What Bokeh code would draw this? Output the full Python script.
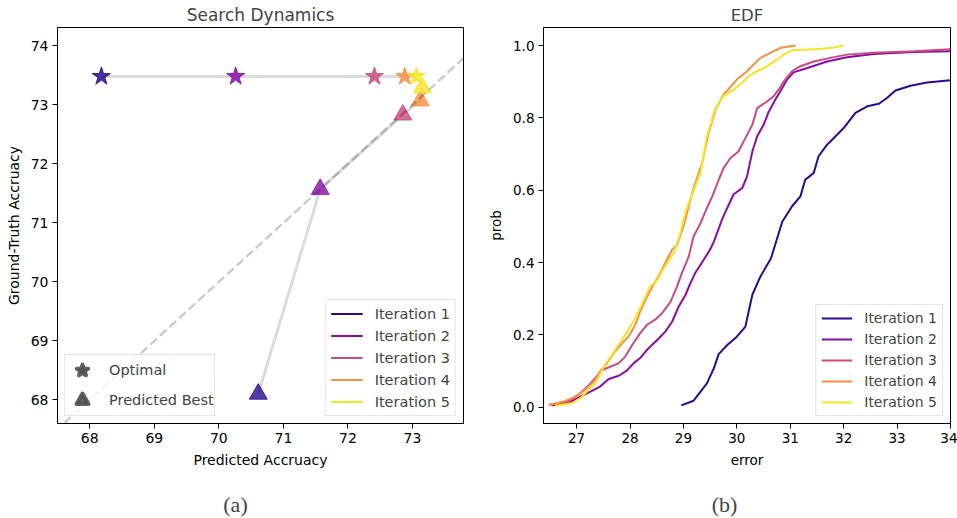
from bokeh.plotting import figure
from bokeh.layouts import row, column
from bokeh.models import (ColumnDataSource, Legend, LegendItem, Label, Slope,
                          FixedTicker, PrintfTickFormatter, Range1d)
from bokeh.embed import file_html
from bokeh.resources import INLINE

# ---------------- data ----------------
iterations = ["Iteration 1", "Iteration 2", "Iteration 3", "Iteration 4", "Iteration 5"]
colors = ["#2a0a91", "#8a0ca7", "#cc4a7e", "#f88f44", "#f6e51f"]

# (a) Search dynamics
optimal_pred = [68.18, 70.26, 72.41, 72.88, 73.06]
optimal_gt = [73.48, 73.48, 73.48, 73.48, 73.48]
best_pred = [70.61, 71.57, 72.85, 73.12, 73.15]
best_gt = [68.10, 71.57, 72.83, 73.07, 73.29]
a_xticks = [68, 69, 70, 71, 72, 73]
a_yticks = [68, 69, 70, 71, 72, 73, 74]

# (b) EDF
it1_err = [28.96, 29.19, 29.44, 29.57, 29.66, 29.82, 30.00, 30.16, 30.29, 30.44,
           30.64, 30.85, 31.03, 31.19, 31.28, 31.44, 31.53, 31.69, 31.88, 32.00,
           32.22, 32.44, 32.66, 32.81, 32.97, 33.25, 33.56, 34.0]
it1_prob = [0.005, 0.018, 0.066, 0.108, 0.147, 0.172, 0.195, 0.223, 0.311, 0.361,
            0.412, 0.513, 0.555, 0.583, 0.629, 0.648, 0.694, 0.726, 0.754, 0.772,
            0.814, 0.832, 0.839, 0.855, 0.876, 0.889, 0.898, 0.904]
it2_err = [26.54, 26.88, 27.07, 27.26, 27.44, 27.60, 27.79, 27.94, 28.07, 28.19,
           28.29, 28.38, 28.51, 28.66, 28.79, 28.91, 29.04, 29.13, 29.22, 29.38,
           29.50, 29.57, 29.72, 29.82, 29.94, 30.10, 30.19, 30.29, 30.38, 30.50,
           30.60, 30.72, 30.85, 30.94, 31.06, 31.32, 31.69, 32.06, 32.56, 33.31, 34.0]
it2_prob = [0.005, 0.015, 0.029, 0.043, 0.057, 0.078, 0.087, 0.101, 0.122, 0.136,
            0.154, 0.168, 0.186, 0.209, 0.237, 0.278, 0.311, 0.343, 0.371, 0.408,
            0.436, 0.458, 0.518, 0.551, 0.589, 0.606, 0.638, 0.707, 0.749, 0.781,
            0.818, 0.850, 0.883, 0.906, 0.926, 0.938, 0.956, 0.968, 0.977, 0.982, 0.984]
it3_err = [26.48, 26.85, 27.07, 27.26, 27.48, 27.63, 27.79, 27.91, 28.04, 28.19,
           28.32, 28.47, 28.60, 28.76, 28.88, 28.97, 29.10, 29.19, 29.32, 29.44,
           29.54, 29.66, 29.75, 29.88, 30.03, 30.16, 30.29, 30.38, 30.57, 30.69,
           30.78, 30.88, 31.03, 31.19, 31.44, 31.75, 32.06, 32.56, 33.31, 34.0]
it3_prob = [0.006, 0.016, 0.039, 0.066, 0.103, 0.112, 0.122, 0.140, 0.172, 0.205,
            0.228, 0.242, 0.260, 0.292, 0.334, 0.371, 0.417, 0.472, 0.509, 0.551,
            0.583, 0.629, 0.661, 0.689, 0.707, 0.744, 0.781, 0.827, 0.846, 0.860,
            0.878, 0.901, 0.929, 0.943, 0.956, 0.966, 0.975, 0.980, 0.984, 0.990]
it4_err = [26.48, 26.76, 26.98, 27.16, 27.32, 27.44, 27.57, 27.69, 27.82, 27.97,
           28.10, 28.19, 28.32, 28.44, 28.57, 28.69, 28.79, 28.88, 29.00, 29.19,
           29.35, 29.47, 29.60, 29.75, 29.88, 30.00, 30.19, 30.31, 30.44, 30.63,
           30.82, 31.10]
it4_prob = [0.006, 0.016, 0.029, 0.048, 0.071, 0.099, 0.122, 0.149, 0.172, 0.195,
            0.228, 0.265, 0.306, 0.339, 0.371, 0.408, 0.436, 0.449, 0.500, 0.606,
            0.675, 0.758, 0.823, 0.864, 0.886, 0.906, 0.929, 0.947, 0.966, 0.980,
            0.994, 1.000]
it5_err = [26.60, 26.91, 27.07, 27.19, 27.35, 27.51, 27.66, 27.82, 27.97, 28.10,
           28.26, 28.38, 28.51, 28.60, 28.69, 28.82, 28.94, 29.04, 29.16, 29.32,
           29.44, 29.60, 29.75, 29.94, 30.10, 30.25, 30.38, 30.57, 30.75, 30.88,
           31.03, 31.44, 31.75, 32.00]
it5_prob = [0.004, 0.011, 0.025, 0.043, 0.066, 0.112, 0.145, 0.181, 0.214, 0.246,
            0.297, 0.334, 0.352, 0.375, 0.398, 0.426, 0.481, 0.541, 0.587, 0.648,
            0.749, 0.827, 0.860, 0.878, 0.898, 0.919, 0.929, 0.943, 0.961, 0.975,
            0.987, 0.990, 0.993, 1.000]
b_xticks = [27, 28, 29, 30, 31, 32, 33, 34]
b_yticks = [0.0, 0.2, 0.4, 0.6, 0.8, 1.0]

captions = ["(a)", "(b)"]

edf_err = [it1_err, it2_err, it3_err, it4_err, it5_err]
edf_prob = [it1_prob, it2_prob, it3_prob, it4_prob, it5_prob]
NAN = float("nan")

FONT = "DejaVu Sans"


def style(p, fs, title_fs):
    p.title.align = "center"
    p.title.text_font = FONT
    p.title.text_font_style = "normal"
    p.title.text_font_size = title_fs
    p.title.standoff = 5
    p.outline_line_color = "black"
    p.outline_line_alpha = 1
    p.outline_line_width = 1
    p.xgrid.visible = False
    p.ygrid.visible = False
    for ax in (p.xaxis[0], p.yaxis[0]):
        ax.major_label_text_font = FONT
        ax.major_label_text_font_size = fs
        ax.major_label_text_color = "black"
        ax.axis_label_text_font = FONT
        ax.axis_label_text_font_size = fs
        ax.axis_label_text_font_style = "normal"
        ax.axis_label_text_color = "black"
        ax.major_tick_out = 5
        ax.major_tick_in = 0
        ax.minor_tick_out = 0
        ax.minor_tick_in = 0
        ax.major_tick_line_color = "black"
        ax.axis_line_color = "black"
        ax.major_label_standoff = 4
        ax.axis_label_standoff = 6


def legend_style(leg, fs):
    leg.label_text_font = FONT
    leg.label_text_font_size = fs
    leg.border_line_color = "#cccccc"
    leg.border_line_width = 1
    leg.background_fill_color = "white"
    leg.background_fill_alpha = 0.8
    leg.margin = 7


# ---------------- (a) ----------------
p1 = figure(width=480, height=486, title="Search Dynamics",
            x_range=Range1d(67.5, 73.79), y_range=Range1d(67.6, 74.31),
            output_backend="svg", toolbar_location=None,
            min_border_left=57, min_border_right=17,
            min_border_top=27, min_border_bottom=63)
p1.xaxis.axis_label = "Predicted Accruacy"
p1.yaxis.axis_label = "Ground-Truth Accruacy"
p1.xaxis.ticker = FixedTicker(ticks=a_xticks)
p1.yaxis.ticker = FixedTicker(ticks=a_yticks)
style(p1, "14px", "17px")

p1.add_layout(Slope(gradient=1, y_intercept=0, line_color="black", line_alpha=0.2,
                    line_width=2.5, line_dash="9 4"))
p1.line(optimal_pred, optimal_gt, line_color="black", line_alpha=0.14, line_width=3)
p1.line(best_pred, best_gt, line_color="black", line_alpha=0.14, line_width=3)

src_opt = ColumnDataSource(dict(x=optimal_pred, y=optimal_gt, c=colors))
src_best = ColumnDataSource(dict(x=best_pred, y=best_gt, c=colors))
p1.scatter("x", "y", source=src_opt, marker="star", size=19,
           fill_color="c", line_color="c", fill_alpha=0.85, line_alpha=0.85)
p1.scatter("x", "y", source=src_best, marker="triangle", size=18,
           fill_color="c", line_color="c", fill_alpha=0.8, line_alpha=0.8)

items_a = []
for name, c in zip(iterations, colors):
    r = p1.line(x=[NAN], y=[NAN], line_color=c, line_width=2)
    items_a.append(LegendItem(label=name, renderers=[r]))
leg_a = Legend(items=items_a, location="bottom_right", glyph_width=32,
               glyph_height=17, label_height=17, spacing=5, padding=5,
               label_standoff=12)
legend_style(leg_a, "14.5px")
p1.add_layout(leg_a)

r_star = p1.scatter(x=[NAN], y=[NAN], marker="star", size=17, fill_color="#505050",
                    line_color="#505050", line_width=4, line_join="round",
                    fill_alpha=0.9, line_alpha=0.9)
r_tri = p1.scatter(x=[NAN], y=[NAN], marker="triangle", size=17, fill_color="#505050",
                   line_color="#505050", line_width=4, line_join="round",
                   fill_alpha=0.9, line_alpha=0.9)
leg_m = Legend(items=[LegendItem(label="Optimal", renderers=[r_star]),
                      LegendItem(label="Predicted Best", renderers=[r_tri])],
               location="bottom_left", glyph_width=34, glyph_height=30,
               label_height=30, spacing=-8, padding=0, label_standoff=10)
legend_style(leg_m, "14.5px")
p1.add_layout(leg_m)

# ---------------- (b) ----------------
p2 = figure(width=477, height=486, title="EDF",
            x_range=Range1d(26.38, 34.0), y_range=Range1d(-0.045, 1.05),
            output_backend="svg", toolbar_location=None,
            min_border_left=63, min_border_right=7,
            min_border_top=27, min_border_bottom=63)
p2.xaxis.axis_label = "error"
p2.yaxis.axis_label = "prob"
p2.xaxis.ticker = FixedTicker(ticks=b_xticks)
p2.yaxis.ticker = FixedTicker(ticks=b_yticks)
p2.yaxis.formatter = PrintfTickFormatter(format="%.1f")
style(p2, "13.5px", "16.5px")

items_b = []
for name, c, ex, pr in zip(iterations, colors, edf_err, edf_prob):
    r = p2.line(ex, pr, line_color=c, line_width=2)
    items_b.append(LegendItem(label=name, renderers=[r]))
leg_b = Legend(items=items_b, location="bottom_right", glyph_width=31,
               glyph_height=16, label_height=16, spacing=5, padding=5,
               label_standoff=12)
legend_style(leg_b, "14px")
p2.add_layout(leg_b)

# ---------------- captions ----------------
pc = figure(width=957, height=32, x_range=Range1d(0, 957), y_range=Range1d(0, 32),
            output_backend="svg", toolbar_location=None,
            x_axis_type=None, y_axis_type=None,
            min_border_left=0, min_border_right=0, min_border_top=0,
            min_border_bottom=0)
pc.outline_line_color = None
pc.xgrid.visible = False
pc.ygrid.visible = False
for cx, txt in zip([235, 724], captions):
    pc.add_layout(Label(x=cx, y=14, x_units="screen", y_units="screen", text=txt,
                        text_align="center", text_baseline="middle",
                        text_font="Liberation Serif", text_font_size="22px"))

layout = column(row(p1, p2), pc)

open("out.html", "w").write(file_html(layout, INLINE))
